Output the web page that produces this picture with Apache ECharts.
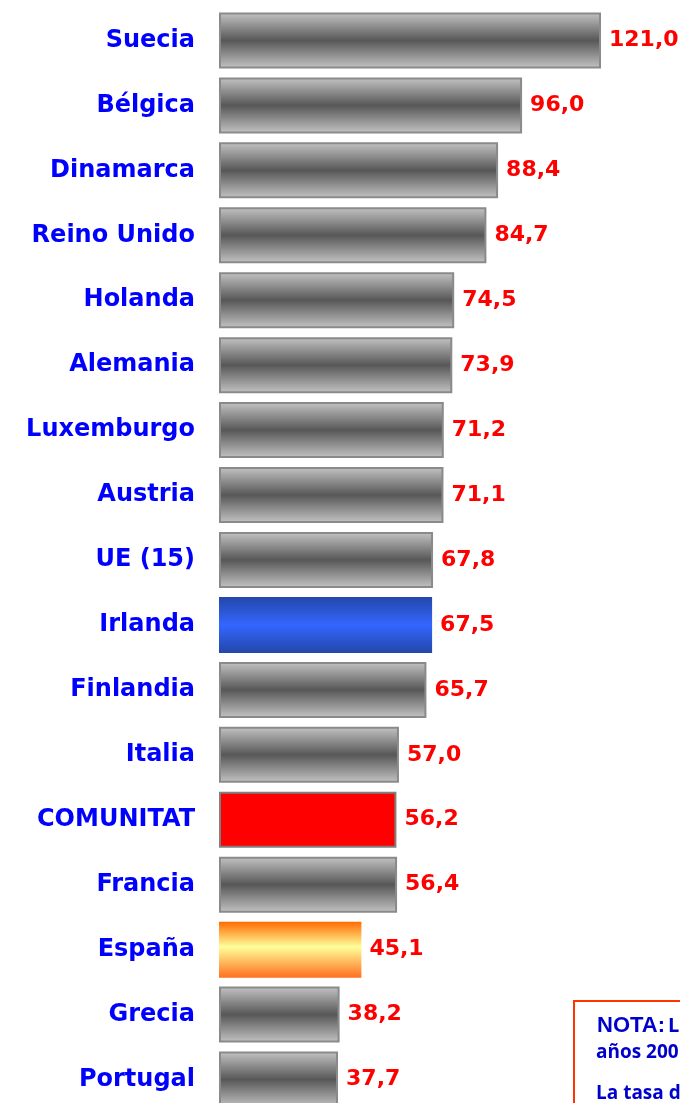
<!DOCTYPE html>
<html>
<head>
<meta charset="utf-8">
<script src="https://cdn.jsdelivr.net/npm/echarts@6/dist/echarts.min.js"></script>
<style>
html, body { margin: 0; padding: 0; background: #fff; }
#main { width: 680px; height: 1103px; }
</style>
</head>
<body>
<div id="main"></div>
<script>
var chart = echarts.init(document.getElementById('main'));

// datos (orden de arriba a abajo)
var paises = ['Suecia', 'Bélgica', 'Dinamarca', 'Reino Unido', 'Holanda', 'Alemania',
    'Luxemburgo', 'Austria', 'UE (15)', 'Irlanda', 'Finlandia', 'Italia',
    'COMUNITAT', 'Francia', 'España', 'Grecia', 'Portugal'];
var valores = [121.0, 96.0, 88.4, 84.7, 74.5, 73.9, 71.2, 71.1, 67.8, 67.5, 65.7, 57.0,
    56.2, 56.4, 45.1, 38.2, 37.7];

function vgrad(stops) {
    return new echarts.graphic.LinearGradient(0, 0, 0, 1, stops);
}

var gris = {
    color: vgrad([
        {offset: 0, color: '#c4c4c4'},
        {offset: 0.5, color: '#575757'},
        {offset: 1, color: '#c4c4c4'}
    ]),
    borderColor: '#8a8a8a',
    borderWidth: 2
};
var estilos = {
    'Irlanda': {
        color: vgrad([
            {offset: 0, color: '#2447a8'},
            {offset: 0.5, color: '#3366ff'},
            {offset: 1, color: '#2447a8'}
        ])
    },
    'COMUNITAT': { color: '#ff0000', borderColor: '#808080', borderWidth: 2 },
    'España': {
        color: vgrad([
            {offset: 0, color: '#ff6a00'},
            {offset: 0.45, color: '#ffff99'},
            {offset: 1, color: '#ff7020'}
        ])
    }
};

var serieData = paises.map(function (p, i) {
    return { value: valores[i], itemStyle: estilos[p] || gris };
});

option = {
    animation: false,
    grid: {
        left: 219, right: 79, top: 8, height: 1104,
        containLabel: false, outerBoundsMode: 'none'
    },
    xAxis: {
        type: 'value',
        min: 0,
        max: 121,
        show: false
    },
    yAxis: {
        type: 'category',
        inverse: true,
        data: paises,
        axisLine: { show: false },
        axisTick: { show: false },
        axisLabel: {
            margin: 24,
            color: '#0000ff',
            fontFamily: 'DejaVu Sans',
            fontWeight: 'bold',
            fontSize: 24
        }
    },
    series: [
        {
            type: 'bar',
            barWidth: 56,
            data: serieData,
            label: {
                show: true,
                position: 'right',
                distance: 8,
                color: '#ff0000',
                fontFamily: 'DejaVu Sans',
                fontWeight: 'bold',
                fontSize: 22,
                formatter: function (p) {
                    return p.value.toFixed(1).replace('.', ',');
                }
            }
        }
    ],
    graphic: [
        {
            type: 'rect',
            shape: { x: 574, y: 1001, width: 140, height: 140 },
            style: { fill: '#fff', stroke: '#ff3300', lineWidth: 2 }
        },
        {
            type: 'text',
            x: 597, y: 1015,
            style: {
                text: 'NOTA:', fill: '#0000cc',
                font: 'bold 22px "Liberation Sans"',
                shadowColor: 'rgba(0,0,0,0.6)', shadowOffsetX: 1, shadowOffsetY: 1
            }
        },
        {
            type: 'text',
            x: 668, y: 1016,
            style: { text: 'Los', fill: '#0000cc', font: 'bold 20px "Open Sans"' }
        },
        {
            type: 'text',
            x: 596, y: 1043,
            style: { text: 'años 2001', fill: '#0000cc', font: 'bold 19px "Open Sans"' }
        },
        {
            type: 'text',
            x: 596, y: 1084,
            style: { text: 'La tasa de', fill: '#0000cc', font: 'bold 19px "Open Sans"' }
        }
    ]
};

chart.setOption(option);
</script>
</body>
</html>
